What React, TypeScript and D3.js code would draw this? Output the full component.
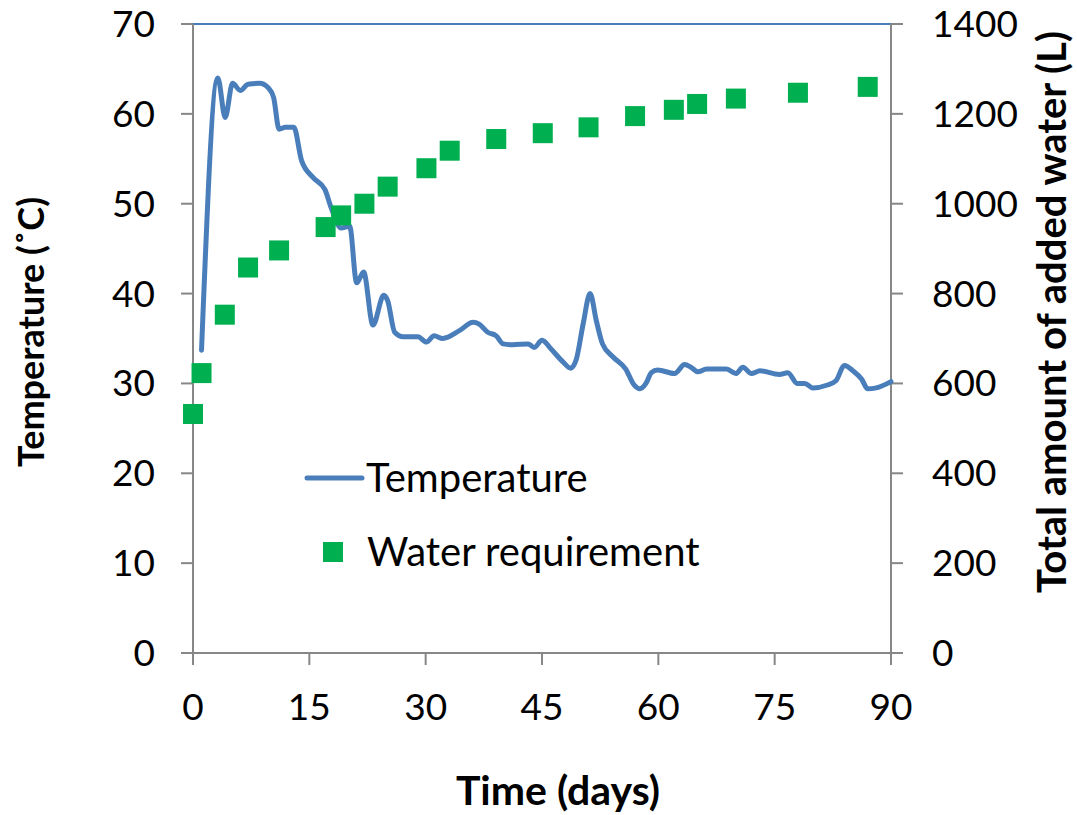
import React, { useRef, useEffect } from "react";
import * as d3 from "d3";

// Temperature trace (days, °C)
const tempDays = [
  1.1, 3.2, 4.15, 5.1, 6.1, 7.1, 8.6, 9.7, 10.4, 11.1, 11.9, 13.0, 14.0, 15.5, 17.0,
  17.8, 19.1, 20.2, 21.1, 22.0, 23.2, 24.6, 25.1, 26.0, 27.1, 29.0, 30.1, 31.1, 32.2,
  34.4, 36.1, 36.9, 38.0, 39.1, 40.0, 41.2, 43.2, 44.0, 45.0, 46.2, 47.7, 48.7, 49.4,
  50.3, 51.2, 52.0, 52.8, 54.1, 55.8, 56.9, 57.6, 58.4, 59.1, 59.9, 62.1, 63.4, 64.2,
  65.1, 66.2, 68.8, 70.0, 70.9, 72.0, 73.1, 75.6, 76.7, 77.9, 78.9, 79.9, 81.7, 82.9,
  84.0, 85.1, 86.2, 87.0, 88.1, 90.0,
];
const tempValues = [
  33.7, 64.0, 59.6, 63.4, 62.6, 63.3, 63.4, 62.9, 61.8, 58.3, 58.5, 58.5, 54.8, 52.9, 51.6,
  49.6, 47.3, 47.5, 41.2, 42.4, 36.5, 39.8, 39.2, 35.7, 35.2, 35.2, 34.6, 35.3, 35.0,
  35.9, 36.8, 36.6, 35.7, 35.3, 34.4, 34.3, 34.4, 34.0, 34.8, 33.8, 32.4, 31.7, 32.6,
  36.6, 40.0, 37.0, 34.4, 33.0, 31.6, 29.8, 29.4, 30.0, 31.2, 31.5, 31.1, 32.1, 31.8,
  31.3, 31.6, 31.6, 31.1, 31.8, 31.1, 31.4, 31.0, 31.2, 30.0, 30.0, 29.5, 29.8, 30.3,
  32.0, 31.4, 30.5, 29.4, 29.5, 30.2,
];

// Cumulative water added (days, L)
const waterDays = [0, 1.1, 4.1, 7.1, 11.1, 17.1, 19.1, 22.1, 25.1, 30.1, 33.1, 39.1, 45.1, 51, 57, 62, 65, 70, 78, 87];
const waterValues = [532, 623, 753, 858, 896, 948, 974, 1000, 1038, 1079, 1118, 1144, 1157, 1170, 1195, 1209, 1222, 1234, 1247, 1260];

const xTicks = [0, 15, 30, 45, 60, 75, 90];
const leftTicks = [0, 10, 20, 30, 40, 50, 60, 70];
const rightTicks = [0, 200, 400, 600, 800, 1000, 1200, 1400];

const App = () => {
  const svgRef = useRef(null);

  useEffect(() => {
    const width = 1077;
    const height = 815;
    const margin = { top: 24, right: 186, bottom: 162, left: 193 };
    const font = "Lato, 'Open Sans', sans-serif";
    const axisColor = "#878787";
    const blue = "#4A7EBB";
    const green = "#00B050";

    const svg = d3.select(svgRef.current);
    svg.selectAll("*").remove();

    const x = d3.scaleLinear().domain([0, 90]).range([margin.left, width - margin.right]);
    const yL = d3.scaleLinear().domain([0, 70]).range([height - margin.bottom, margin.top]);
    const yR = d3.scaleLinear().domain([0, 1400]).range([height - margin.bottom, margin.top]);

    const x0 = x(0), x1 = x(90), yb = yL(0), yt = yL(70);

    // plot frame: blue top edge
    svg.append("line")
      .attr("x1", x0).attr("x2", x1).attr("y1", yt).attr("y2", yt)
      .attr("stroke", blue).attr("stroke-width", 2);

    // axes
    const axes = svg.append("g").attr("stroke", axisColor).attr("stroke-width", 2);
    axes.append("line").attr("x1", x0).attr("x2", x0).attr("y1", yt).attr("y2", yb + 12);
    axes.append("line").attr("x1", x1).attr("x2", x1).attr("y1", yt).attr("y2", yb + 12);
    axes.append("line").attr("x1", x0 - 12).attr("x2", x1 + 12).attr("y1", yb).attr("y2", yb);
    axes.selectAll(".lt").data(leftTicks).join("line")
      .attr("x1", x0 - 12).attr("x2", x0).attr("y1", (d) => yL(d)).attr("y2", (d) => yL(d));
    axes.selectAll(".rt").data(rightTicks).join("line").attr("class", "rt")
      .attr("x1", x1).attr("x2", x1 + 12).attr("y1", (d) => yR(d)).attr("y2", (d) => yR(d));
    axes.selectAll(".bt").data(xTicks).join("line").attr("class", "bt")
      .attr("x1", (d) => x(d)).attr("x2", (d) => x(d)).attr("y1", yb).attr("y2", yb + 12);

    const labelStyle = (sel) =>
      sel.attr("font-family", font).attr("font-size", 37).attr("fill", "#000");

    svg.append("g").selectAll("text").data(leftTicks).join("text")
      .call(labelStyle)
      .attr("x", 155).attr("y", (d) => yL(d)).attr("dy", "0.35em")
      .attr("text-anchor", "end").text((d) => d);

    svg.append("g").selectAll("text").data(rightTicks).join("text")
      .call(labelStyle)
      .attr("x", 932).attr("y", (d) => yR(d)).attr("dy", "0.35em")
      .attr("text-anchor", "start").text((d) => d);

    svg.append("g").selectAll("text").data(xTicks).join("text")
      .call(labelStyle)
      .attr("x", (d) => x(d)).attr("y", 720)
      .attr("text-anchor", "middle").text((d) => d);

    // axis titles
    svg.append("text").call(labelStyle)
      .attr("font-weight", "bold").attr("font-size", 36)
      .attr("text-anchor", "middle")
      .attr("transform", "translate(44,332) rotate(-90)")
      .text("Temperature (˚C)");

    svg.append("text").call(labelStyle)
      .attr("font-weight", "bold").attr("font-size", 40)
      .attr("text-anchor", "middle")
      .attr("transform", "translate(1066,312) rotate(-90)")
      .text("Total amount of added water (L)");

    svg.append("text").call(labelStyle)
      .attr("font-weight", "bold").attr("font-size", 41)
      .attr("text-anchor", "middle")
      .attr("x", 558).attr("y", 805)
      .text("Time (days)");

    // temperature line
    const tempData = tempDays.map((d, i) => ({ day: d, v: tempValues[i] }));
    const line = d3.line()
      .x((d) => x(d.day))
      .y((d) => yL(d.v))
      .curve(d3.curveMonotoneX);
    svg.append("path")
      .datum(tempData)
      .attr("fill", "none")
      .attr("stroke", blue)
      .attr("stroke-width", 5)
      .attr("stroke-linejoin", "round")
      .attr("stroke-linecap", "round")
      .attr("d", line);

    // water squares
    const sq = 20;
    svg.append("g").selectAll("rect")
      .data(waterDays.map((d, i) => ({ day: d, v: waterValues[i] })))
      .join("rect")
      .attr("x", (d) => x(d.day) - sq / 2)
      .attr("y", (d) => yR(d.v) - sq / 2)
      .attr("width", sq).attr("height", sq)
      .attr("fill", green);

    // legend
    const legend = svg.append("g");
    legend.append("line")
      .attr("x1", 307).attr("x2", 362).attr("y1", 478).attr("y2", 478)
      .attr("stroke", blue).attr("stroke-width", 5).attr("stroke-linecap", "round");
    legend.append("text").call(labelStyle)
      .attr("font-size", 40)
      .attr("x", 366).attr("y", 478).attr("dy", "0.35em").text("Temperature");
    legend.append("rect")
      .attr("x", 333 - sq / 2).attr("y", 552 - sq / 2)
      .attr("width", sq).attr("height", sq).attr("fill", green);
    legend.append("text").call(labelStyle)
      .attr("font-size", 40)
      .attr("x", 367).attr("y", 552).attr("dy", "0.35em").text("Water requirement");
  }, []);

  return (
    <svg
      ref={svgRef}
      width={1077}
      height={815}
      style={{ position: "absolute", left: 0, top: 0, background: "#fff" }}
    ></svg>
  );
};

export default App;
